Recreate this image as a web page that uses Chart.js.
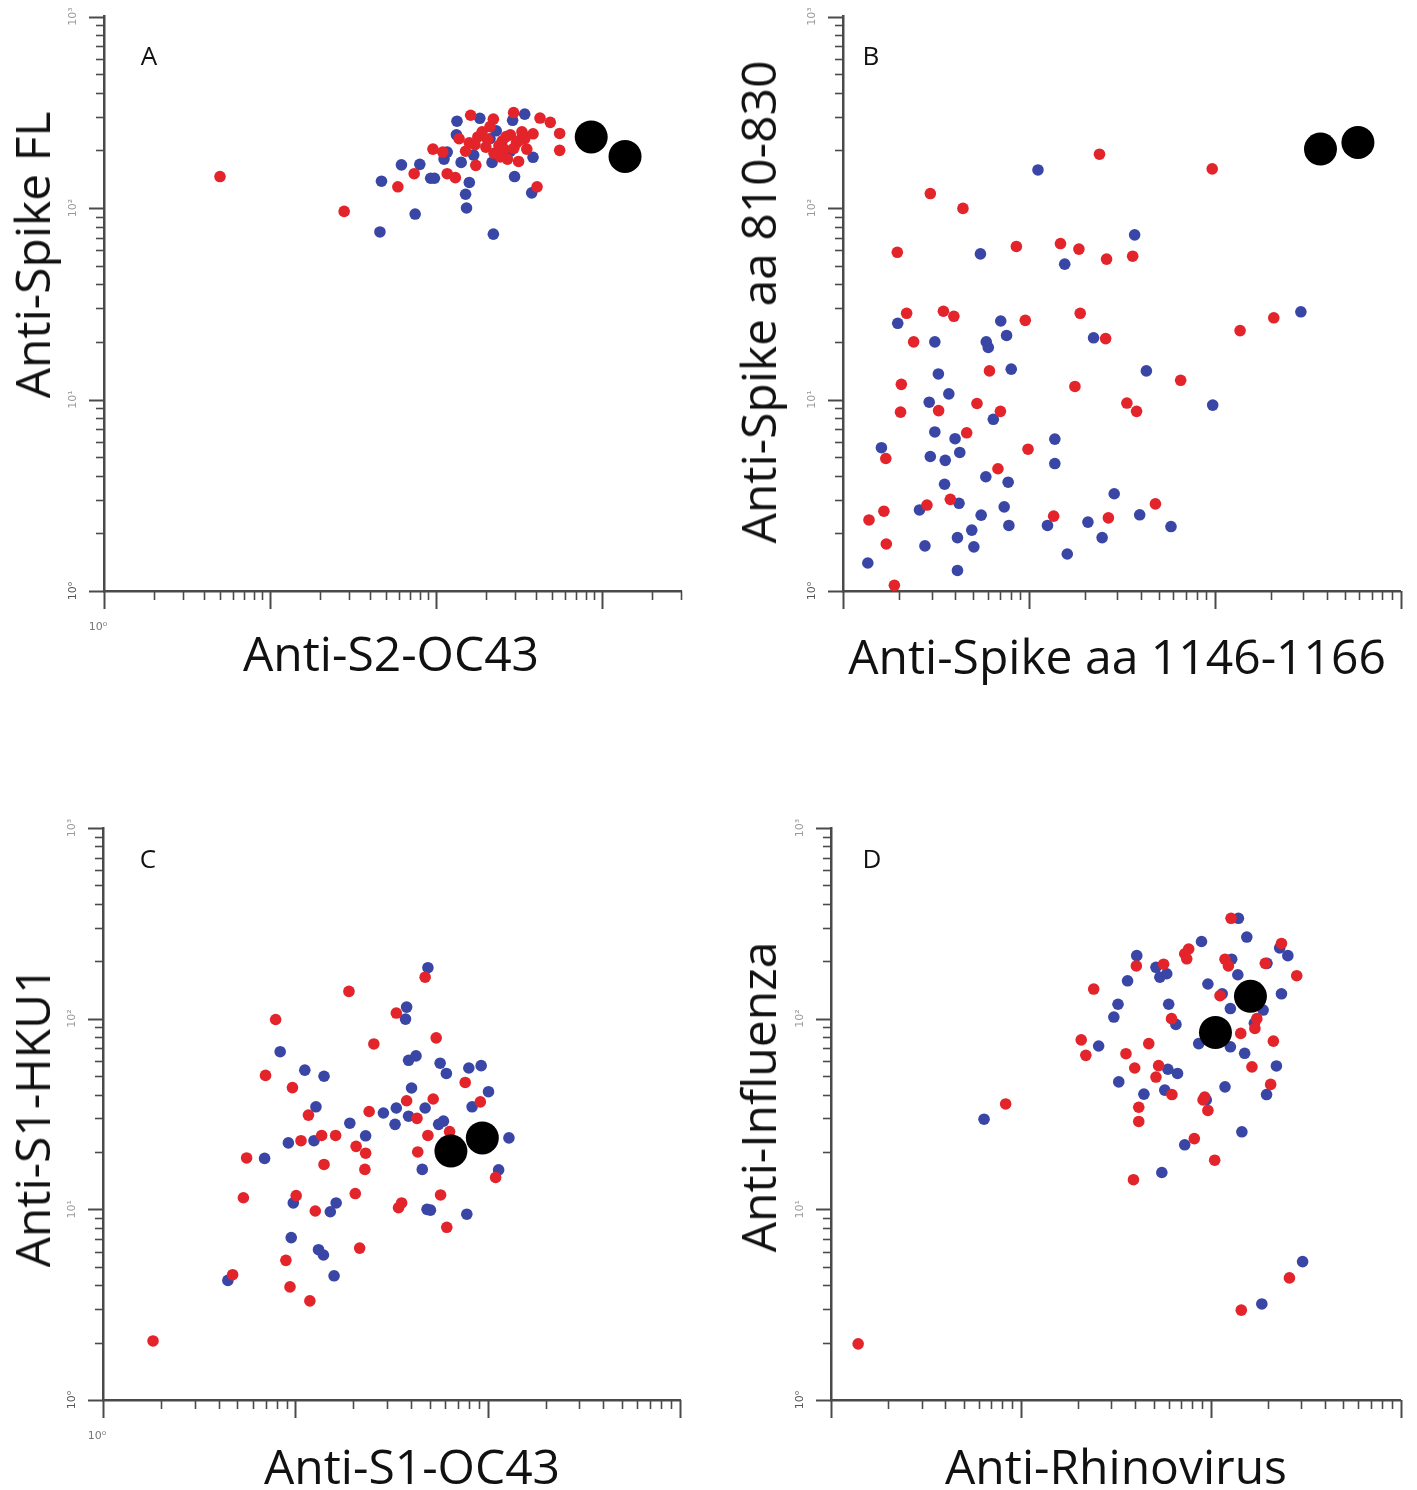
<!DOCTYPE html>
<html>
<head>
<meta charset="utf-8">
<script src="https://cdn.jsdelivr.net/npm/chart.js@4.4.1/dist/chart.umd.min.js"></script>
<style>
  html, body { margin: 0; padding: 0; background: #fff; }
  #page { position: relative; width: 1417px; height: 1490px; overflow: hidden; font-family: "Open Sans", sans-serif; color: #111; }
  canvas { position: absolute; }
  .title { position: absolute; font-size: 48px; line-height: 1; white-space: nowrap; transform: translate(-50%, -50%); z-index: 2; }
  .title.rot { transform: translate(-50%, -50%) rotate(-90deg); }
  .letter { position: absolute; font-size: 26px; line-height: 1; transform: translate(-50%, -50%); z-index: 2; }
</style>
</head>
<body>
<div id="page">
  <canvas id="chartA" width="708" height="745" style="left:0;top:0"></canvas>
  <canvas id="chartB" width="709" height="745" style="left:708px;top:0"></canvas>
  <canvas id="chartC" width="708" height="745" style="left:0;top:745px"></canvas>
  <canvas id="chartD" width="709" height="745" style="left:708px;top:745px"></canvas>

  <div class="letter" style="left:149px;top:55px">A</div>
  <div class="letter" style="left:871px;top:55px">B</div>
  <div class="letter" style="left:148px;top:858px">C</div>
  <div class="letter" style="left:872px;top:858px">D</div>

  <div class="title rot" style="left:32px;top:255px">Anti-Spike FL</div>
  <div class="title" style="left:391px;top:653px">Anti-S2-OC43</div>
  <div class="title rot" style="left:758px;top:302px">Anti-Spike aa 810-830</div>
  <div class="title" style="left:1117px;top:656px">Anti-Spike aa 1146-1166</div>
  <div class="title rot" style="left:32px;top:1117px">Anti-S1-HKU1</div>
  <div class="title" style="left:412px;top:1466px">Anti-S1-OC43</div>
  <div class="title rot" style="left:758px;top:1097px">Anti-Influenza</div>
  <div class="title" style="left:1116px;top:1466px">Anti-Rhinovirus</div>
</div>

<script>
// axis ticks (log decades)
const tickDecades = [1, 10, 100, 1000];
const tickMantissas = [1, 2, 3, 4, 5, 6, 7, 8, 9];
const tickLabels = ['10\u2070', '10\u00B9', '10\u00B2', '10\u00B3'];

// Panel A: Anti-S2-OC43 vs Anti-Spike FL
const aRedX = [5.0, 28, 162, 222, 294, 424, 489, 557, 557, 96, 110, 138, 159, 179, 200, 224, 251, 281, 306, 343, 385, 315, 174, 117, 131, 74, 59, 407, 212, 353, 151, 258,
  172, 190, 205, 240, 265, 295, 320, 245, 270, 330];
const aRedY = [146, 96, 305, 291, 315, 295, 280, 245, 200, 203, 196, 230, 219, 235, 208, 193, 224, 241, 219, 230, 244, 175, 167, 151, 144, 151, 129, 129, 266, 203, 198, 203,
  214, 250, 228, 212, 236, 205, 226, 185, 180, 250];
const aBlueX = [47, 62, 80, 93, 46, 75, 153, 222, 298, 378, 151, 159, 142, 112, 117, 134, 184, 231, 343, 290, 133, 281, 385, 212, 218, 334, 169, 98];
const aBlueY = [138, 168, 169, 143, 75, 93, 100, 73, 146, 120, 118, 136, 173, 180, 196, 284, 294, 253, 309, 287, 241, 198, 184, 230, 173, 241, 189, 143];
const aBlackX = [863, 1380];
const aBlackY = [235, 186];

// Panel B: Anti-Spike aa 1146-1166 vs Anti-Spike aa 810-830
const bRedX = [24, 97, 2.95, 4.42, 1.96, 8.57, 14.8, 18.6, 26.2, 36.2, 2.2, 3.47, 3.95, 9.57, 18.9, 2.4, 25.9, 137, 208, 2.06, 6.14, 17.7, 65.6, 2.04, 3.27, 5.26, 7.03, 33.7, 38, 4.63, 1.7, 9.9, 6.82, 3.78, 2.83, 1.66, 1.38, 13.6, 26.8, 48, 1.71, 1.89];
const bRedY = [191, 160, 119, 99.5, 58.7, 63, 65.2, 61, 54.1, 56, 28.2, 28.9, 27.2, 25.9, 28.2, 20, 20.8, 22.9, 26.7, 12, 14.1, 11.7, 12.6, 8.59, 8.75, 9.53, 8.67, 9.58, 8.67, 6.7, 4.92, 5.5, 4.35, 3.01, 2.81, 2.61, 2.35, 2.46, 2.41, 2.85, 1.76, 1.07];
const bBlueX = [11.2, 37.1, 5.49, 15.6, 1.97, 3.12, 5.9, 6.05, 7.06, 7.59, 22.3, 291, 3.26, 8.04, 42.9, 3.71, 2.91, 6.44, 97.6, 3.12, 4.01, 4.25, 13.8, 1.61, 2.95, 3.55, 13.8, 3.52, 5.87, 7.74, 28.8, 4.21, 2.58, 7.37, 5.54, 39.5, 7.81, 12.6, 20.8, 58.2, 4.93, 4.13, 2.76, 5.06, 24.8, 16.1, 1.36, 4.13];
const bBlueY = [158, 72.4, 57.6, 50.9, 25, 20, 20, 18.7, 25.7, 21.6, 21, 28.7, 13.6, 14.4, 14.1, 10.7, 9.68, 7.88, 9.35, 6.77, 6.24, 5.29, 6.21, 5.6, 5.04, 4.81, 4.63, 3.61, 3.95, 3.7, 3.22, 2.87, 2.65, 2.75, 2.49, 2.5, 2.2, 2.2, 2.29, 2.17, 2.08, 1.9, 1.72, 1.7, 1.9, 1.56, 1.4, 1.28];
const bBlackX = [371, 590];
const bBlackY = [203, 220];

// Panel C: Anti-S1-OC43 vs Anti-S1-HKU1
const cRedX = [1.82, 4.72, 5.37, 5.58, 7.0, 7.9, 9.66, 10.7, 11.7, 13.7, 16.2, 19, 25.6, 24.2, 20.7, 23.2, 23, 14.1, 10.1, 12.7, 20.5, 21.6, 8.93, 9.38, 11.9, 33.5, 47.3, 54, 37.9, 52.1, 42.9, 48.9, 43.3, 76.4, 91.6, 63.4, 110, 56.9, 34.4, 35.7, 61.3];
const cRedY = [2.04, 4.54, 11.5, 18.6, 50.4, 99, 43.5, 22.9, 31.2, 24.4, 24.4, 139, 73.7, 32.6, 21.4, 19.7, 16.2, 17.2, 11.8, 9.8, 12.1, 6.26, 5.4, 3.92, 3.31, 107, 165, 79.3, 37.1, 37.9, 30, 24.4, 20, 46.3, 36.6, 25.6, 14.7, 11.9, 10.2, 10.8, 8.05];
const cBlueX = [4.46, 6.92, 8.34, 11.2, 14.1, 12.8, 9.2, 12.5, 19.2, 23.2, 28.7, 33.5, 33, 38.8, 40.2, 47.3, 37.9, 37.4, 48.9, 38.8, 42.4, 56.6, 61, 79.8, 92.5, 83, 101, 58.9, 55.6, 45.7, 114, 129, 48.4, 50.4, 77.9, 9.76, 16.3, 15.2, 9.52, 13.2, 14, 15.9];
const cBlueY = [4.24, 18.5, 67.1, 53.7, 49.9, 34.5, 22.3, 22.9, 28.3, 24.3, 32, 34, 27.9, 30.8, 43.3, 34, 115, 99.5, 185, 60.5, 63.8, 58.4, 51.6, 55.1, 56.7, 34.5, 41.4, 29, 27.9, 16.2, 16.1, 23.7, 10, 9.9, 9.43, 10.8, 10.8, 9.71, 7.11, 6.14, 5.76, 4.48];
const cBlackX = [64.4, 93.8];
const cBlackY = [20.2, 23.7];

// Panel D: Anti-Rhinovirus vs Anti-Influenza
const dRedX = [1.39, 8.32, 24.2, 20.8, 22, 35.8, 47.2, 39.8, 53.2, 51.5, 62.5, 41.8, 41.8, 39.2, 82, 105, 91.2, 96.7, 40.6, 56.5, 73, 76.6, 74.8, 119, 124, 194, 236, 284, 112, 144, 171, 175, 214, 165, 207, 62.2, 93, 260, 145, 128];
const dRedY = [1.97, 35.7, 143, 77.4, 64.2, 65.5, 74, 55.1, 56.7, 49.4, 40, 34.3, 28.9, 14.3, 23.5, 18.1, 37.5, 33, 189, 193, 219, 232, 206, 205, 189, 195, 248, 168, 132, 83.7, 88.9, 100, 76.2, 55.9, 45.2, 100, 38.8, 4.37, 2.96, 336];
const dBlueX = [6.4, 25.7, 30.9, 32.5, 36.5, 40.8, 51.5, 54, 58.7, 60.1, 65.6, 59.5, 66.9, 32.8, 44.5, 57.3, 73, 55.3, 89.5, 129, 139, 155, 96.7, 115, 127, 189, 170, 236, 231, 255, 198, 140, 86.5, 127, 151, 222, 119, 197, 146, 94.8, 186, 305];
const dBlueY = [29.7, 71.9, 102, 119, 158, 214, 186, 165, 172, 119, 93.3, 54.3, 51.6, 46.6, 40.2, 42.2, 21.8, 15.6, 254, 205, 170, 268, 152, 135, 113, 111, 94.7, 135, 235, 214, 195, 336, 74, 71.2, 65.8, 56.5, 43.9, 40, 25.5, 37.5, 3.19, 5.32];
const dBlackX = [106, 162];
const dBlackY = [84.6, 131];

const RED = '#e3242b';
const BLUE = '#3a46a6';
const AXIS = '#4a4a4a';

// draws log tick marks outside the plot plus the small decade labels
const logAxes = {
  id: 'logAxes',
  beforeDatasetsDraw(chart, args, opts) {
    const ctx = chart.ctx;
    const xs = chart.scales.x;
    const ys = chart.scales.y;
    const area = chart.chartArea;
    ctx.save();
    ctx.strokeStyle = AXIS;
    tickDecades.forEach(function (d) {
      tickMantissas.forEach(function (m) {
        const v = m * d;
        const major = m === 1;
        if (v >= xs.min && v <= xs.max * 1.0001) {
          const px = Math.round(xs.getPixelForValue(v)) + 0.5;
          ctx.lineWidth = major ? 2 : 1.6;
          ctx.beginPath();
          ctx.moveTo(px, area.bottom);
          ctx.lineTo(px, area.bottom + (major ? 18 : 9));
          ctx.stroke();
        }
        if (v >= ys.min && v <= ys.max * 1.0001) {
          const py = Math.round(ys.getPixelForValue(v)) + 0.5;
          ctx.lineWidth = major ? 2 : 1.6;
          ctx.beginPath();
          ctx.moveTo(area.left, py);
          ctx.lineTo(area.left - (major ? 15 : 8), py);
          ctx.stroke();
        }
      });
    });

    ctx.font = '11px "DejaVu Sans"';
    ctx.textAlign = 'center';
    ctx.textBaseline = 'middle';
    tickDecades.forEach(function (d, i) {
      if (d < ys.min || d > ys.max * 1.0001) return;
      ctx.save();
      ctx.fillStyle = i === 0 ? '#555' : '#9a9a9a';
      ctx.translate(area.left - 31, ys.getPixelForValue(d));
      ctx.rotate(-Math.PI / 2);
      ctx.fillText(tickLabels[i], 0, 0);
      ctx.restore();
    });
    if (opts.xZeroLabel) {
      ctx.fillStyle = '#777';
      ctx.fillText(tickLabels[0], xs.getPixelForValue(1) - 6, area.bottom + 36);
    }
    ctx.restore();
  }
};

function pts(xs, ys) {
  return xs.map(function (x, i) { return { x: x, y: ys[i] }; });
}

function makeChart(id, xMax, pad, sets, xZeroLabel) {
  const dot = function (label, data, color, r, order) {
    return {
      label: label, data: data, order: order,
      pointBackgroundColor: color, pointBorderColor: color, backgroundColor: color,
      pointBorderWidth: 0, pointRadius: r, pointHoverRadius: r, clip: false
    };
  };
  new Chart(document.getElementById(id), {
    type: 'scatter',
    data: {
      datasets: [
        dot('reference', pts(sets[4], sets[5]), '#000', 16.5, 0),
        dot('red', pts(sets[0], sets[1]), RED, 5.8, 1),
        dot('blue', pts(sets[2], sets[3]), BLUE, 5.8, 2)
      ]
    },
    options: {
      responsive: false,
      animation: false,
      events: [],
      layout: { padding: pad },
      plugins: { legend: { display: false }, tooltip: { enabled: false }, logAxes: { xZeroLabel: xZeroLabel } },
      scales: {
        x: {
          type: 'logarithmic', min: 1, max: xMax,
          grid: { display: true, drawOnChartArea: false, drawTicks: false },
          border: { display: true, color: AXIS, width: 2.5 },
          ticks: { display: false },
          afterFit: function (s) { s.height = 0; }
        },
        y: {
          type: 'logarithmic', min: 1, max: 1000,
          grid: { display: true, drawOnChartArea: false, drawTicks: false },
          border: { display: true, color: AXIS, width: 2.5 },
          ticks: { display: false },
          afterFit: function (s) { s.width = 0; }
        }
      }
    },
    plugins: [logAxes]
  });
}

makeChart('chartA', 3000, { left: 104, top: 16, right: 27, bottom: 154 },
  [aRedX, aRedY, aBlueX, aBlueY, aBlackX, aBlackY], true);
makeChart('chartB', 1000, { left: 135, top: 16, right: 3, bottom: 154 },
  [bRedX, bRedY, bBlueX, bBlueY, bBlackX, bBlackY], false);
makeChart('chartC', 1000, { left: 103, top: 83, right: 28, bottom: 90 },
  [cRedX, cRedY, cBlueX, cBlueY, cBlackX, cBlackY], true);
makeChart('chartD', 1000, { left: 123, top: 83, right: 13, bottom: 90 },
  [dRedX, dRedY, dBlueX, dBlueY, dBlackX, dBlackY], false);
</script>
</body>
</html>
